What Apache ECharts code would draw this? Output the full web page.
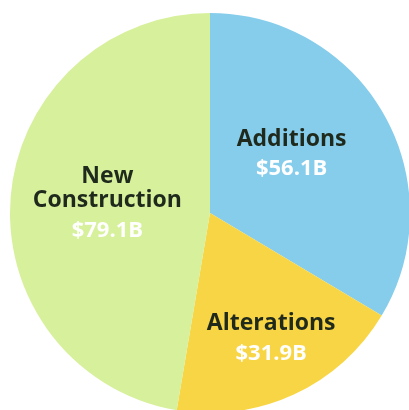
<!DOCTYPE html>
<html>
<head>
<meta charset="utf-8">
<script src="https://cdn.jsdelivr.net/npm/echarts@6/dist/echarts.min.js"></script>
<style>html,body{margin:0;padding:0;background:#fff}#c{width:409px;height:410px}</style>
</head>
<body>
<div id="c"></div>
<script>
const categories = ['Additions', 'Alterations', 'New\nConstruction'];
const values = [56.1, 31.9, 79.1];
const valueLabels = ['$56.1B', '$31.9B', '$79.1B'];
const colors = ['#86cdec', '#f8d544', '#d7f09c'];
const labelShift = [[-8, -5], [18, 35], [0, 2]];

const chart = echarts.init(document.getElementById('c'), null, {renderer: 'canvas'});
chart.setOption({
  animation: false,
  series: [{
    type: 'pie',
    center: [210, 213],
    radius: 200,
    startAngle: 90,
    clockwise: true,
    silent: true,
    data: categories.map((c, i) => ({
      name: c,
      value: values[i],
      itemStyle: {color: colors[i]}
    })),
    label: {
      position: 'inside',
      formatter: p => '{n|' + p.name.split('\n').join('}\n{n|') + '}\n{v|' + valueLabels[p.dataIndex] + '}',
      rich: {
        n: {fontFamily: 'Open Sans', fontWeight: 'bold', fontSize: 23, color: '#1f2a1c', lineHeight: 24, align: 'center'},
        v: {fontFamily: 'Open Sans', fontWeight: 'bold', fontSize: 22, color: '#ffffff', lineHeight: 36, align: 'center'}
      }
    },
    labelLine: {show: false},
    labelLayout: p => ({dx: labelShift[p.dataIndex][0], dy: labelShift[p.dataIndex][1]})
  }]
});
</script>
</body>
</html>
